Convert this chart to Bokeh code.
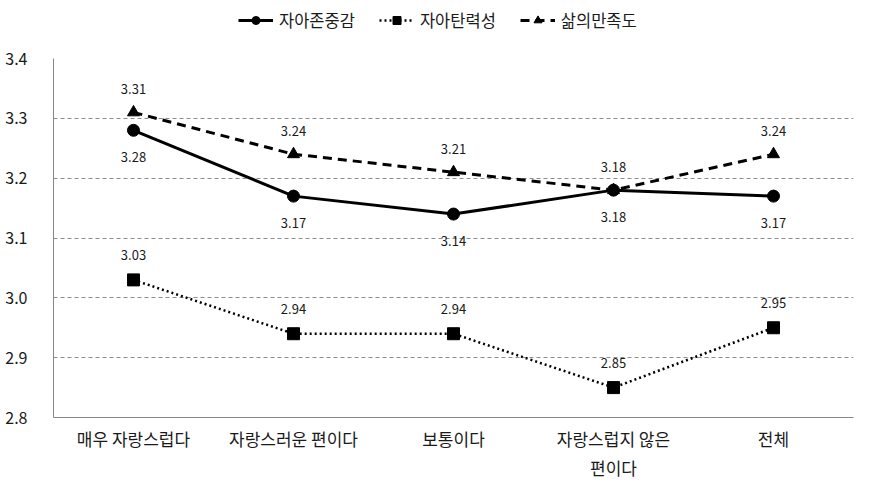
from bokeh.plotting import figure
from bokeh.layouts import column
from bokeh.models import (FactorRange, Range1d, FixedTicker, PrintfTickFormatter,
                          Legend, LegendItem, ColumnDataSource, CategoricalAxis,
                          CustomJSTickFormatter)
from bokeh.core.properties import value
from bokeh.embed import file_html
from bokeh.resources import INLINE

categories = ["매우 자랑스럽다", "자랑스러운 편이다", "보통이다", "자랑스럽지 않은 편이다", "전체"]
label_line1 = ["매우 자랑스럽다", "자랑스러운 편이다", "보통이다", "자랑스럽지 않은", "전체"]
label_line2 = ["", "", "", "편이다", ""]
series_names = ["자아존중감", "자아탄력성", "삶의만족도"]
self_esteem = [3.28, 3.17, 3.14, 3.18, 3.17]
resilience = [3.03, 2.94, 2.94, 2.85, 2.95]
life_satisfaction = [3.31, 3.24, 3.21, 3.18, 3.24]
y_ticks = [2.8, 2.9, 3.0, 3.1, 3.2, 3.3, 3.4]

FONT = "Noto Sans CJK KR"
TXT = "#1a1a1a"
W = 855
LEG_H = 40
TOTAL_H = 493

styles = [dict(line_width=3, line_dash="solid", marker="circle"),
          dict(line_width=2.5, line_dash="2 3", marker="square"),
          dict(line_width=3, line_dash="9 6", marker="triangle")]

p = figure(width=W, height=TOTAL_H - LEG_H, x_range=FactorRange(*categories, range_padding=0),
           y_range=Range1d(2.8, 3.4), output_backend="svg", toolbar_location=None,
           min_border_left=53, min_border_right=2, min_border_top=58 - LEG_H,
           min_border_bottom=TOTAL_H - 417)
p.outline_line_color = None

p.yaxis.ticker = FixedTicker(ticks=y_ticks)
p.yaxis.formatter = PrintfTickFormatter(format="%.1f")
for ax in (p.xaxis[0], p.yaxis[0]):
    ax.axis_line_color = "#868686"
    ax.axis_line_width = 1
    ax.major_tick_line_color = None
    ax.minor_tick_line_color = None
    ax.major_label_text_font = FONT
    ax.major_label_text_color = TXT
p.yaxis.major_label_text_font_size = "16px"
p.xaxis.major_label_text_font_size = "17px"
p.yaxis.major_label_standoff = 20
p.xaxis.major_label_standoff = 2
p.xaxis.formatter = CustomJSTickFormatter(args=dict(cats=categories, lines=label_line1),
                                          code="return lines[cats.indexOf(tick)];")

ax2 = CategoricalAxis(axis_line_color=None, major_tick_line_color=None,
                      minor_tick_line_color=None, major_label_text_font=FONT,
                      major_label_text_font_size="17px", major_label_text_color=TXT,
                      major_label_standoff=-5,
                      formatter=CustomJSTickFormatter(args=dict(cats=categories, lines=label_line2),
                                                      code="return lines[cats.indexOf(tick)];"))
p.add_layout(ax2, "below")

p.xgrid.grid_line_color = None
p.ygrid.grid_line_color = "#8c8c8c"
p.ygrid.grid_line_dash = "4 3"
p.ygrid.grid_line_width = 1

src = ColumnDataSource(dict(x=categories, a=self_esteem, b=resilience, c=life_satisfaction,
                            la=[f"{v:.2f}" for v in self_esteem],
                            lb=[f"{v:.2f}" for v in resilience],
                            lc=[f"{v:.2f}" for v in life_satisfaction]))

for col, st in zip(["a", "b", "c"], styles):
    p.line("x", col, source=src, line_color="black", line_width=st["line_width"],
           line_dash=st["line_dash"])
    p.scatter("x", col, source=src, marker=st["marker"], size=12, color="black")

common = dict(text_font=value(FONT), text_font_size="13px", text_color=TXT,
              text_align="center", text_baseline="middle")
p.text("x", "a", text="la", source=src, y_offset=27, **common)
p.text("x", "b", text="lb", source=src, y_offset=-25, **common)
p.text("x", "c", text="lc", source=src, y_offset=-23, **common)

# legend strip (its renderers reuse the main chart's data, which lies outside this strip's range)
lg = figure(width=W, height=LEG_H, x_range=FactorRange(*categories, range_padding=0),
            y_range=Range1d(0, 1), output_backend="svg", toolbar_location=None, min_border=0)
lg.axis.visible = False
lg.grid.visible = False
lg.outline_line_color = None
items = []
for name, col, st in zip(series_names, ["a", "b", "c"], styles):
    r1 = lg.line("x", col, source=src, line_color="black", line_width=st["line_width"],
                 line_dash=st["line_dash"])
    r2 = lg.scatter("x", col, source=src, marker=st["marker"], size=12, color="black")
    items.append(LegendItem(label=name, renderers=[r1, r2]))
legend = Legend(items=items, orientation="horizontal", location=(185, 8),
                border_line_color=None, background_fill_alpha=0,
                padding=0, margin=0, spacing=24, glyph_width=35, glyph_height=20,
                label_standoff=6, label_text_font=FONT, label_text_font_size="16.5px",
                label_text_color=TXT, label_height=20)
lg.add_layout(legend, "center")

open("out.html", "w").write(file_html(column(lg, p, spacing=0), INLINE))
